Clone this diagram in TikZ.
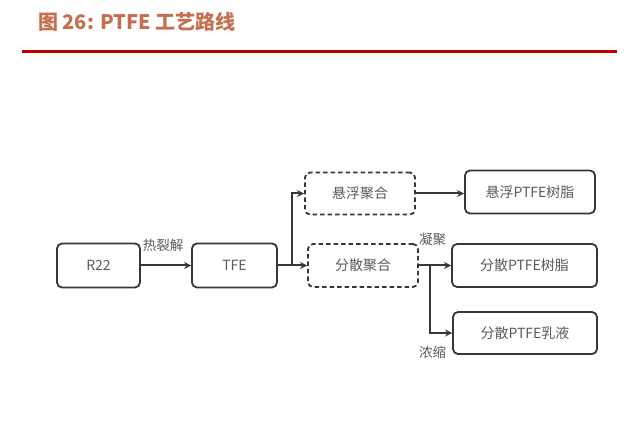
\documentclass[tikz,border=0pt]{standalone}
\usepackage{fontspec}
\setmainfont{Noto Sans CJK SC}
\newfontfamily\cjk{Noto Sans CJK SC}
\usetikzlibrary{arrows.meta,positioning}

\definecolor{titlebrown}{RGB}{196,112,80}
\definecolor{rulered}{RGB}{192,0,0}
\definecolor{boxline}{RGB}{55,55,55}
\definecolor{boxtext}{RGB}{90,90,90}

\begin{document}
\begin{tikzpicture}[x=1pt, y=-1pt,
    proc/.style={draw=boxline, line width=1.8pt, rounded corners=5pt, align=center, font=\cjk\fontsize{14}{16}\selectfont, text=boxtext, inner sep=0pt},
    poly/.style={proc, dashed, dash pattern=on 4.5pt off 3pt},
    lab/.style={font=\cjk\fontsize{13.5}{15}\selectfont, text=boxtext, inner sep=1pt},
    arr/.style={-{Stealth[length=7pt, width=7pt]}, line width=2pt, draw=boxline}
]
\useasboundingbox (0,0) rectangle (641,441);
\node[anchor=west, font=\cjk\bfseries\fontsize{20}{23}\selectfont, text=titlebrown, inner sep=0pt] (title) at (38,22) {图 26:  PTFE 工艺路线};
\draw[rulered, line width=2.4pt] (22,51.5) -- (617,51.5);

\node[proc, minimum width=83pt, minimum height=44pt] (r22) at (98.5,265.5) {R22};
\node[proc, minimum width=85pt, minimum height=44pt] (tfe) at (234.5,265.5) {TFE};
\node[poly, minimum width=110pt, minimum height=42pt] (susp) at (360,193.5) {悬浮聚合};
\node[poly, minimum width=110pt, minimum height=43pt] (disp) at (363,265.5) {分散聚合};
\node[proc, minimum width=130pt, minimum height=43pt] (sresin) at (530,192) {悬浮PTFE树脂};
\node[proc, minimum width=145pt, minimum height=43pt] (dresin) at (524.5,265.5) {分散PTFE树脂};
\node[proc, minimum width=144pt, minimum height=42pt] (dlatex) at (525,333) {分散PTFE乳液};

\coordinate (split) at (292,265.5);
\coordinate (fork) at (430,265.5);

\draw[arr] (r22) -- (tfe);
\node[lab, anchor=south] (pyro) at (163,253) {热裂解};
\draw[arr] (tfe.east) -- (disp.west);
\draw[arr] (split) |- (susp.west);
\draw[arr] (susp.east) -- (susp.east -| sresin.west);
\draw[arr] (disp.east) -- (dresin.west);
\draw[arr] (fork) |- (dlatex.west);
\node[lab, anchor=west] (coag) at (418,239) {凝聚};
\node[lab, anchor=west] (conc) at (418,352) {浓缩};
\end{tikzpicture}
\end{document}
